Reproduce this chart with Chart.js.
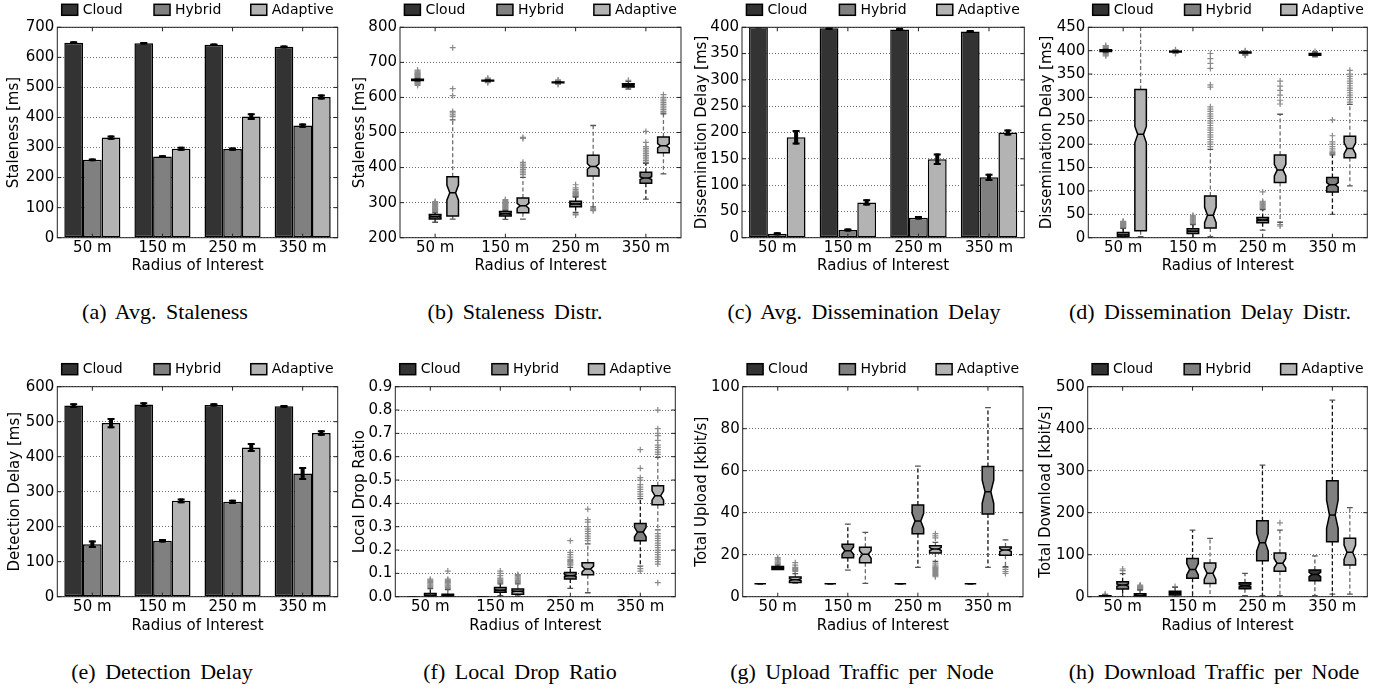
<!DOCTYPE html>
<html><head><meta charset="utf-8">
<script src="https://cdn.jsdelivr.net/npm/chart.js@4.4.1/dist/chart.umd.min.js"></script>
<style>
html,body{margin:0;padding:0;background:#fff;width:1386px;height:690px;overflow:hidden;position:relative}
canvas{position:absolute}
.cap{position:absolute;font-family:"Liberation Serif","Times New Roman",serif;font-size:22px;line-height:22px;word-spacing:4px;white-space:nowrap;transform:translateX(-50%);color:#000}
</style></head><body>
<script>
// ---------------- DATA ----------------
const categories = ['50 m', '150 m', '250 m', '350 m'];
const seriesNames = ['Cloud', 'Hybrid', 'Adaptive'];
const seriesColors = ['#333333', '#808080', '#b3b3b3'];

// (a) Avg. Staleness [ms]
const staleCloud = [649, 647, 642, 635];
const staleHybrid = [259, 270, 295, 373];
const staleAdaptive = [333, 296, 403, 468];
const staleCloudErr = [1, 1, 1, 1];
const staleHybridErr = [1, 1, 2, 4];
const staleAdaptiveErr = [4, 3, 8, 5];
const staleTicks = [0, 100, 200, 300, 400, 500, 600, 700];

// (c) Avg. Dissemination Delay [ms]
const dissCloud = [401, 398, 396, 392];
const dissHybrid = [7.6, 14.6, 38, 114.7];
const dissAdaptive = [191, 67, 149, 200];
const dissCloudErr = [1, 1, 1, 1];
const dissHybridErr = [1, 1, 1.5, 5];
const dissAdaptiveErr = [12, 4, 9, 4];
const dissTicks = [0, 50, 100, 150, 200, 250, 300, 350, 400];

// (e) Detection Delay [ms]
const detCloud = [546, 549, 548, 544];
const detHybrid = [150, 160, 271, 352];
const detAdaptive = [496, 274, 426, 468];
const detCloudErr = [4, 4, 2, 1];
const detHybridErr = [8, 2, 3, 16];
const detAdaptiveErr = [12, 4, 10, 5];
const detTicks = [0, 100, 200, 300, 400, 500, 600];

// Box plots: per category [lowWhisker, q1, median, q3, highWhisker, notchLow, notchHigh]
// (b) Staleness distribution
const staleDistCloud = [[646,648,650,652,654,649,651],[645,647,648,649,651,647.5,648.5],[640,642,643,644,646,642.5,643.5],[624,630,635,639,646,633,637]];
const staleDistCloudOut = [[634,637,639,641,643,644,656,658,660,662,664,666,668,670,672,675,678],[642,644,653,655],[637,639,648,650],[649]];
const staleDistHybrid = [[244,253,260,266,271,258,262],[252,262,268,275,278,266,270],[272,288,296,304,316,294,298],[310,355,370,387,412,366,374]];
const staleDistHybridOut = [[273,275,277,279,281,283,285,287,289,291,293,295,297,299,301,303],[280,282,284,286,288,290,292,294,296,298,300,303,306,309],[265,268,318,320,322,324,326,328,330,333,337,342,351],[415,420,425,430,435,440,445,450,455,460,472,503]];
const staleDistAdaptive = [[253,262,328,374,536,307,350],[253,271,291,313,372,284,298],[288,376,403,435,520,395,411],[382,442,462,487,553,456,468]];
const staleDistAdaptiveOut = [[545,550,556,560,605,625,742],[380,385,390,395,400,405,410,415,483,486],[277,281,284],[556,560,565,570,575,580,585,590,595,600,608]];
const staleDistTicks = [200, 300, 400, 500, 600, 700, 800];

// (d) Dissemination delay distribution
const dissDistCloud = [[396,398,400,402,404,399,401],[396,397,398,399,400,397.5,398.5],[393,395,396,397,398,395.5,396.5],[387,390,392,394,397,391,393]];
const dissDistCloudOut = [[389,391,393,395,405,407,409,411],[394,395,401,402],[390,391,392,399,400],[398]];
const dissDistHybrid = [[0,2,6,11,20,5,7],[0,9,14,19,28,13,15],[16,32,38,43,60,37,40],[50,98,113,129,177,108,118]];
const dissDistHybridOut = [[21,22,23,24,25,26,27,28,29,30,31,32,33,34,35],[30,32,34,36,38,40,42,44,46,48],[62,64,66,68,70,72,74,76,78,98],[180,182,185,190,195,200,205,218,252]];
const dissDistAdaptive = [[2,15,221,317,450,203,238],[2,21,48,89,189,32,65],[33,118,145,177,264,132,157],[111,171,191,217,285,179,203]];
const dissDistAdaptiveOut = [[],[195,200,205,210,215,220,225,230,235,240,245,250,255,260,265,270,275,280,322,327,362,373,383,394],[25,28,286,294,305,315,324,335],[290,295,300,305,310,315,320,325,330,335,340,345,350,358]];
const dissDistTicks = [0, 50, 100, 150, 200, 250, 300, 350, 400, 450];

// (f) Local drop ratio
const dropCloud = [[0,0,0,0,0,0,0],[0,0,0,0,0,0,0],[0,0,0,0,0,0,0],[0,0,0,0,0,0,0]];
const dropCloudOut = [[],[],[],[]];
const dropHybrid = [[0,0,0.005,0.014,0.035,0.003,0.007],[0.005,0.019,0.028,0.039,0.055,0.025,0.031],[0.036,0.076,0.09,0.104,0.126,0.086,0.094],[0.131,0.24,0.277,0.314,0.42,0.257,0.297]];
const dropHybridOut = [[0.04,0.045,0.05,0.055,0.06,0.065,0.07,0.075],[0.06,0.065,0.07,0.075,0.08,0.09,0.1,0.11],[0.135,0.14,0.145,0.15,0.155,0.16,0.17,0.18,0.19,0.24],[0.11,0.12,0.43,0.44,0.45,0.46,0.47,0.48,0.5,0.51,0.55,0.63]];
const dropAdaptive = [[0,0,0.004,0.011,0.03,0.002,0.006],[0.003,0.011,0.023,0.033,0.055,0.02,0.026],[0.017,0.094,0.119,0.146,0.226,0.106,0.131],[0.286,0.394,0.433,0.476,0.597,0.414,0.454]];
const dropAdaptiveOut = [[0.035,0.04,0.045,0.05,0.055,0.06,0.065,0.07,0.075,0.11],[0.06,0.065,0.07,0.075,0.08,0.085,0.09,0.095],[0.24,0.25,0.26,0.27,0.28,0.29,0.3,0.32,0.33,0.375],[0.06,0.14,0.15,0.16,0.17,0.18,0.19,0.2,0.21,0.22,0.23,0.24,0.25,0.26,0.27,0.61,0.62,0.63,0.64,0.65,0.67,0.69,0.7,0.72,0.8]];
const dropTicks = [0, 0.1, 0.2, 0.3, 0.4, 0.5, 0.6, 0.7, 0.8, 0.9];

// (g) Total upload [kbit/s]
const upCloud = [[6.2,6.2,6.2,6.2,6.2,6.2,6.2],[6.2,6.2,6.2,6.2,6.2,6.2,6.2],[6.2,6.2,6.2,6.2,6.2,6.2,6.2],[6.2,6.2,6.2,6.2,6.2,6.2,6.2]];
const upCloudOut = [[],[],[],[]];
const upHybrid = [[13,12.9,13.7,14.4,15,13.5,13.9],[12.7,18.5,21.9,25,34.6,20.2,23.8],[14,30,36,43.7,62.2,32.5,39.7],[14,39.4,50,62,90,44.4,55.5]];
const upHybridOut = [[15.5,16,16.5,17,17.5,18,18.6],[],[],[]];
const upAdaptive = [[6.5,6.8,8.1,9.4,11,7.6,8.6],[6.3,16.2,20.2,23.5,30.6,18.3,21.9],[16.8,20.8,22.7,24.3,25.9,22,23.4],[14.3,19.7,22.2,23.7,27.1,21.5,22.9]];
const upAdaptiveOut = [[12,12.5,13,13.5,14,15,16.2],[],[9.5,10,10.5,11,11.5,12,12.5,13,13.5,14,14.5,15,16,28,29,30],[11.1,12,13,14]];
const upTicks = [0, 20, 40, 60, 80, 100];

// (h) Total download [kbit/s]
const downCloud = [[0,0,1,2.4,4,0.7,1.3],[0,4,8.7,12.7,22,7.5,10],[2.4,19,26,33,55.6,23.5,28.5],[2.4,38,53,63.5,97,48,58]];
const downCloudOut = [[5,6],[24],[],[]];
const downHybrid = [[0,18.3,27.8,35.7,55,25,30.5],[0,43.7,65,91,158.7,51.6,79],[2.4,85.7,128.6,181,313.5,108.7,150.8],[6,131,194.4,276,468,162.7,230]];
const downHybridOut = [[62,66],[],[],[]];
const downAdaptive = [[0,0,3,7,16,2,4],[0,31.7,55.6,80,139,41.3,69.8],[2.4,60.3,79.4,104,158.7,69,91],[6.3,75.4,105.6,139,212,89,123]];
const downAdaptiveOut = [[17,18,19,20,21,22,23,24,25,26,27.8],[],[176],[]];
const downTicks = [0, 100, 200, 300, 400, 500];

const captions = ['(a) Avg. Staleness', '(b) Staleness Distr.', '(c) Avg. Dissemination Delay', '(d) Dissemination Delay Distr.',
                  '(e) Detection Delay', '(f) Local Drop Ratio', '(g) Upload Traffic per Node', '(h) Download Traffic per Node'];

// ---------------- LAYOUT / STYLE ----------------
Chart.defaults.color = '#000';
Chart.defaults.font.family = '"DejaVu Sans", sans-serif';
Chart.defaults.font.size = 15;
const FONT = {family: '"DejaVu Sans", sans-serif', size: 15};
const rows = [{T: 0, H: 280, plotT: 27.3, plotB: 237.7, capTop: 301},
              {T: 340, H: 300, plotT: 386.7, plotB: 596.7, capTop: 661}];
const boxOffsets = [-0.25, 0, 0.25];
const whiskerColors = ['#555555', '#111111', '#6e6e6e'];
const legendFrac = [0.0157, 0.345, 0.69];
const capCenters = [165, 515, 864, 1210, 162, 520, 862, 1214];

function line(ctx, x1, y1, x2, y2) { ctx.beginPath(); ctx.moveTo(x1, y1); ctx.lineTo(x2, y2); ctx.stroke(); }

const framePlugin = {
  id: 'frame',
  afterDraw(chart) {
    const {ctx, chartArea: a, scales: {x, y}} = chart;
    ctx.save();
    ctx.strokeStyle = '#222'; ctx.lineWidth = 1;
    ctx.strokeRect(a.left, a.top, a.width, a.height);
    y.ticks.forEach(t => {
      const py = y.getPixelForValue(t.value);
      line(ctx, a.left, py, a.left + 4, py); line(ctx, a.right - 4, py, a.right, py);
    });
    x.ticks.forEach((t, i) => {
      const px = x.getPixelForTick(i);
      line(ctx, px, a.top, px, a.top + 4); line(ctx, px, a.bottom - 4, px, a.bottom);
    });
    // legend
    const cy = a.top - 17.5;
    ctx.font = '14px "DejaVu Sans"'; ctx.textBaseline = 'middle'; ctx.textAlign = 'left';
    seriesNames.forEach((n, s) => {
      const bx = a.left + legendFrac[s] * a.width;
      ctx.fillStyle = seriesColors[s]; ctx.fillRect(bx, cy - 5.5, 16, 11);
      ctx.strokeStyle = '#000'; ctx.lineWidth = 1.5; ctx.strokeRect(bx, cy - 5.5, 16, 11);
      ctx.fillStyle = '#000'; ctx.fillText(n, bx + 21, cy + 0.5);
    });
    ctx.restore();
  }
};

function errPlugin(errs) {
  return {
    id: 'errbars',
    afterDatasetsDraw(chart) {
      const {ctx, chartArea: a, scales: {y}} = chart;
      ctx.save(); ctx.beginPath(); ctx.rect(a.left, a.top, a.width, a.height); ctx.clip();
      ctx.strokeStyle = '#000';
      chart.data.datasets.forEach((ds, s) => {
        chart.getDatasetMeta(s).data.forEach((bar, i) => {
          const v = ds.data[i], e = errs[s][i];
          const yt = y.getPixelForValue(v + e), yb = y.getPixelForValue(v - e);
          ctx.lineWidth = 4; line(ctx, bar.x, yt - 1, bar.x, yb + 1);
          ctx.lineWidth = 2; line(ctx, bar.x - 3.5, yt, bar.x + 3.5, yt); line(ctx, bar.x - 3.5, yb, bar.x + 3.5, yb);
        });
      });
      ctx.restore();
    }
  };
}

function boxPlugin(stats) {
  return {
    id: 'boxes',
    afterDatasetsDraw(chart) {
      const {ctx, chartArea: a, scales: {x, y}} = chart;
      const unit = x.getPixelForValue(2) - x.getPixelForValue(1);
      const bw = 0.165 * unit, ins = bw / 4;
      const Y = v => y.getPixelForValue(v);
      ctx.save(); ctx.beginPath(); ctx.rect(a.left, a.top, a.width, a.height); ctx.clip();
      stats.forEach((ser, s) => ser.forEach((st, i) => {
        const [lo, q1, md, q3, hi, nl, nh] = st;
        const cx = x.getPixelForValue(i + 1 + boxOffsets[s]);
        const L = cx - bw / 2, R = cx + bw / 2;
        ctx.strokeStyle = whiskerColors[s]; ctx.lineWidth = 1.3;
        ctx.setLineDash([4, 2.5]);
        line(ctx, cx, Y(q1), cx, Y(lo)); line(ctx, cx, Y(q3), cx, Y(hi));
        ctx.setLineDash([]);
        ctx.strokeStyle = '#555';
        line(ctx, cx - bw / 4, Y(lo), cx + bw / 4, Y(lo)); line(ctx, cx - bw / 4, Y(hi), cx + bw / 4, Y(hi));
        ctx.beginPath();
        ctx.moveTo(L, Y(q1)); ctx.lineTo(R, Y(q1)); ctx.lineTo(R, Y(nl)); ctx.lineTo(R - ins, Y(md));
        ctx.lineTo(R, Y(nh)); ctx.lineTo(R, Y(q3)); ctx.lineTo(L, Y(q3)); ctx.lineTo(L, Y(nh));
        ctx.lineTo(L + ins, Y(md)); ctx.lineTo(L, Y(nl)); ctx.closePath();
        ctx.fillStyle = seriesColors[s]; ctx.fill();
        ctx.strokeStyle = '#000'; ctx.lineWidth = 1.5; ctx.stroke();
        line(ctx, L + ins, Y(md), R - ins, Y(md));
      }));
      ctx.restore();
    }
  };
}

function makeOptions(p, ticks, fmt, isBar) {
  const yw = p.plotL - p.L, xh = p.T + p.H - p.plotB;
  const xScale = {
    grid: {display: false, drawTicks: false}, border: {display: false},
    ticks: {padding: 1, font: FONT, color: '#000', maxRotation: 0, autoSkip: false},
    title: {display: true, text: 'Radius of Interest', font: FONT, color: '#000', padding: {top: 0, bottom: 5}},
    afterFit(s) { s.height = xh; }
  };
  if (isBar) { xScale.type = 'category'; xScale.offset = true; }
  else {
    xScale.type = 'linear'; xScale.min = 0.5; xScale.max = 4.5;
    xScale.afterBuildTicks = s => { s.ticks = categories.map((c, i) => ({value: i + 1})); };
    xScale.ticks.callback = v => categories[Math.round(v) - 1];
  }
  return {
    responsive: false, animation: false, events: [], devicePixelRatio: 1,
    layout: {padding: {top: p.plotT - p.T, right: p.L + p.W - p.plotR, bottom: 0, left: 0}},
    plugins: {legend: {display: false}, tooltip: {enabled: false}},
    scales: {
      x: xScale,
      y: {
        type: 'linear', min: ticks[0], max: ticks[ticks.length - 1],
        afterBuildTicks(s) { s.ticks = ticks.map(v => ({value: v})); },
        ticks: {callback: fmt, padding: 3, font: FONT, color: '#000'},
        grid: {color: '#6e6e6e', lineWidth: 1, drawTicks: false},
        border: {display: false, dash: [1, 2]},
        title: {display: true, text: p.ytitle, font: FONT, color: '#000', padding: {top: 1, bottom: 0}},
        afterFit(s) { s.width = yw; }
      }
    }
  };
}

function addCanvas(p) {
  const c = document.createElement('canvas');
  c.width = p.W; c.height = p.H;
  c.style.left = p.L + 'px'; c.style.top = p.T + 'px';
  c.style.width = p.W + 'px'; c.style.height = p.H + 'px';
  document.body.appendChild(c);
  return c;
}

function geom(def) {
  const r = rows[def.row];
  const L = Math.round(def.yc - 10);
  const W = Math.ceil(def.plotR + 10 - L);
  return Object.assign({}, def, {L, W, T: r.T, H: r.H, plotT: r.plotT, plotB: r.plotB});
}

function barChart(def, values, errs, ticks, fmt) {
  const p = geom(def);
  new Chart(addCanvas(p), {
    type: 'bar',
    data: {labels: categories, datasets: values.map((d, s) => ({
      label: seriesNames[s], data: d, backgroundColor: seriesColors[s], borderColor: '#000',
      borderWidth: 1.5, borderSkipped: false, categoryPercentage: 0.8, barPercentage: 1.0
    }))},
    options: makeOptions(p, ticks, fmt, true),
    plugins: [errPlugin(errs), framePlugin]
  });
}

function boxChart(def, stats, outs, ticks, fmt) {
  const p = geom(def);
  new Chart(addCanvas(p), {
    type: 'scatter',
    data: {datasets: outs.map((o, s) => ({
      label: seriesNames[s],
      data: o.flatMap((arr, i) => arr.map(v => ({x: i + 1 + boxOffsets[s], y: v}))),
      pointStyle: 'cross', radius: 3, borderWidth: 1.2, borderColor: '#8a8a8a', backgroundColor: '#8a8a8a'
    }))},
    options: makeOptions(p, ticks, fmt, false),
    plugins: [boxPlugin(stats), framePlugin]
  });
}

const intFmt = v => String(v);
const dec1 = v => v.toFixed(1);

barChart({row: 0, plotL: 57.3, plotR: 337.7, yc: 14, ytitle: 'Staleness [ms]'},
  [staleCloud, staleHybrid, staleAdaptive], [staleCloudErr, staleHybridErr, staleAdaptiveErr], staleTicks, intFmt);
boxChart({row: 0, plotL: 400, plotR: 681, yc: 360, ytitle: 'Staleness [ms]'},
  [staleDistCloud, staleDistHybrid, staleDistAdaptive], [staleDistCloudOut, staleDistHybridOut, staleDistAdaptiveOut], staleDistTicks, intFmt);
barChart({row: 0, plotL: 742, plotR: 1024.3, yc: 702, ytitle: 'Dissemination Delay [ms]'},
  [dissCloud, dissHybrid, dissAdaptive], [dissCloudErr, dissHybridErr, dissAdaptiveErr], dissTicks, intFmt);
boxChart({row: 0, plotL: 1088.3, plotR: 1367.3, yc: 1046.5, ytitle: 'Dissemination Delay [ms]'},
  [dissDistCloud, dissDistHybrid, dissDistAdaptive], [dissDistCloudOut, dissDistHybridOut, dissDistAdaptiveOut], dissDistTicks, intFmt);
barChart({row: 1, plotL: 57.3, plotR: 337.7, yc: 15, ytitle: 'Detection Delay [ms]'},
  [detCloud, detHybrid, detAdaptive], [detCloudErr, detHybridErr, detAdaptiveErr], detTicks, intFmt);
boxChart({row: 1, plotL: 395.3, plotR: 675.3, yc: 360, ytitle: 'Local Drop Ratio'},
  [dropCloud, dropHybrid, dropAdaptive], [dropCloudOut, dropHybridOut, dropAdaptiveOut], dropTicks, dec1);
boxChart({row: 1, plotL: 742.7, plotR: 1023, yc: 702, ytitle: 'Total Upload [kbit/s]'},
  [upCloud, upHybrid, upAdaptive], [upCloudOut, upHybridOut, upAdaptiveOut], upTicks, intFmt);
boxChart({row: 1, plotL: 1087.7, plotR: 1367.3, yc: 1046, ytitle: 'Total Download [kbit/s]'},
  [downCloud, downHybrid, downAdaptive], [downCloudOut, downHybridOut, downAdaptiveOut], downTicks, intFmt);

captions.forEach((t, i) => {
  const d = document.createElement('div');
  d.className = 'cap';
  d.textContent = t;
  d.style.left = capCenters[i] + 'px';
  d.style.top = rows[i < 4 ? 0 : 1].capTop + 'px';
  document.body.appendChild(d);
});
</script>
</body></html>
